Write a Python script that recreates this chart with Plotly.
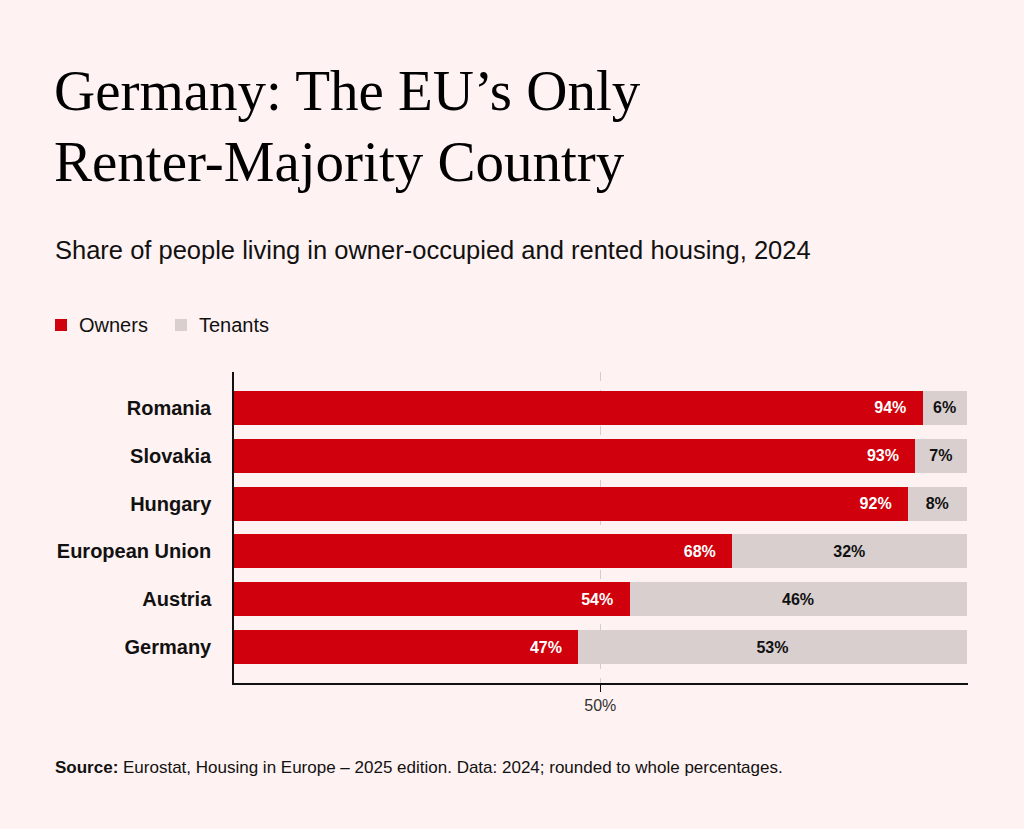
import plotly.graph_objects as go

# data
countries = ["Romania", "Slovakia", "Hungary", "European Union", "Austria", "Germany"]
owners = [94, 93, 92, 68, 54, 47]
tenants = [6, 7, 8, 32, 46, 53]

RED = "#D0000C"
GREY = "#D9CFCF"
BG = "#FFF2F2"
SANS = "Liberation Sans, Arial, sans-serif"
SERIF = "Liberation Serif, Times New Roman, serif"

W, H = 1024, 829
L, R, T, B = 234, 56, 372, 146
pw, ph = W - L - R, H - T - B


def px(x):
    return (x - L) / pw


def py(y):
    return (H - B - y) / ph


fig = go.Figure()
fig.add_trace(go.Bar(
    y=countries, x=owners, orientation="h", name="Owners",
    marker=dict(color=RED, line=dict(width=0)),
    texttemplate="%{x}%\u00a0\u00a0\u00a0", textposition="inside", insidetextanchor="end",
    textfont=dict(color="white", size=16, family=SANS, weight="bold"),
    hoverinfo="skip",
))
fig.add_trace(go.Bar(
    y=countries, x=tenants, orientation="h", name="Tenants",
    marker=dict(color=GREY, line=dict(width=0)),
    texttemplate="%{x}%", textposition="inside", insidetextanchor="middle",
    textfont=dict(color="#111111", size=16, family=SANS, weight="bold"),
    hoverinfo="skip",
))

fig.update_layout(
    width=W, height=H,
    paper_bgcolor=BG, plot_bgcolor=BG,
    margin=dict(l=L, r=R, t=T, b=B),
    barmode="stack", bargap=0.29,
    font=dict(family=SANS, color="#111111"),
    uniformtext=dict(minsize=10, mode="show"),
    showlegend=False,
    xaxis=dict(
        range=[0, 100.2], tickvals=[50], ticktext=["50%"],
        showgrid=True, gridcolor="#CFCFCF", griddash="dash", gridwidth=1,
        showline=True, linecolor="#111111", linewidth=1.5,
        ticks="outside", ticklen=7, tickcolor="#111111",
        tickfont=dict(size=16, color="#333333"),
        zeroline=False, fixedrange=True,
    ),
    yaxis=dict(
        categoryorder="array", categoryarray=countries, autorange=False,
        range=[5.75, -0.75],
        showline=True, linecolor="#111111", linewidth=1.5,
        ticks="", ticklabelstandoff=17,
        tickfont=dict(size=20, family=SANS, color="#111111", weight="bold"),
        showgrid=False, zeroline=False, fixedrange=True,
    ),
)

# legend drawn by hand (swatch + label)
legend_items = [("Owners", RED, 55), ("Tenants", GREY, 175)]
for name, color, x0 in legend_items:
    fig.add_shape(
        type="rect", xref="paper", yref="paper", layer="above",
        x0=px(x0), x1=px(x0 + 12), y0=py(331), y1=py(319),
        fillcolor=color, line=dict(width=0),
    )
    fig.add_annotation(
        text=name, xref="paper", yref="paper", x=px(x0 + 22), y=py(325),
        xanchor="left", yanchor="middle", showarrow=False,
        font=dict(family=SANS, size=20, color="#111111"),
    )

fig.add_annotation(
    text="Germany: The EU’s Only", xref="paper", yref="paper",
    x=px(52), y=py(124), xanchor="left", yanchor="bottom", showarrow=False,
    font=dict(family=SERIF, size=57, color="#000000"),
)
fig.add_annotation(
    text="Renter-Majority Country", xref="paper", yref="paper",
    x=px(52), y=py(195), xanchor="left", yanchor="bottom", showarrow=False,
    font=dict(family=SERIF, size=57, color="#000000"),
)
fig.add_annotation(
    text="Share of people living in owner-occupied and rented housing, 2024",
    xref="paper", yref="paper", x=px(53), y=py(250), xanchor="left", yanchor="middle",
    showarrow=False, font=dict(family=SANS, size=25.5, color="#111111"),
)
fig.add_annotation(
    text="<b>Source:</b> Eurostat, Housing in Europe – 2025 edition. Data: 2024; rounded to whole percentages.",
    xref="paper", yref="paper", x=px(53), y=py(767), xanchor="left", yanchor="middle",
    showarrow=False, font=dict(family=SANS, size=17, color="#111111"),
)

fig.write_html(
    "out.html",
    config={"displayModeBar": False},
    post_script="document.body.style.margin='0';document.body.style.background='%s';" % BG,
)
